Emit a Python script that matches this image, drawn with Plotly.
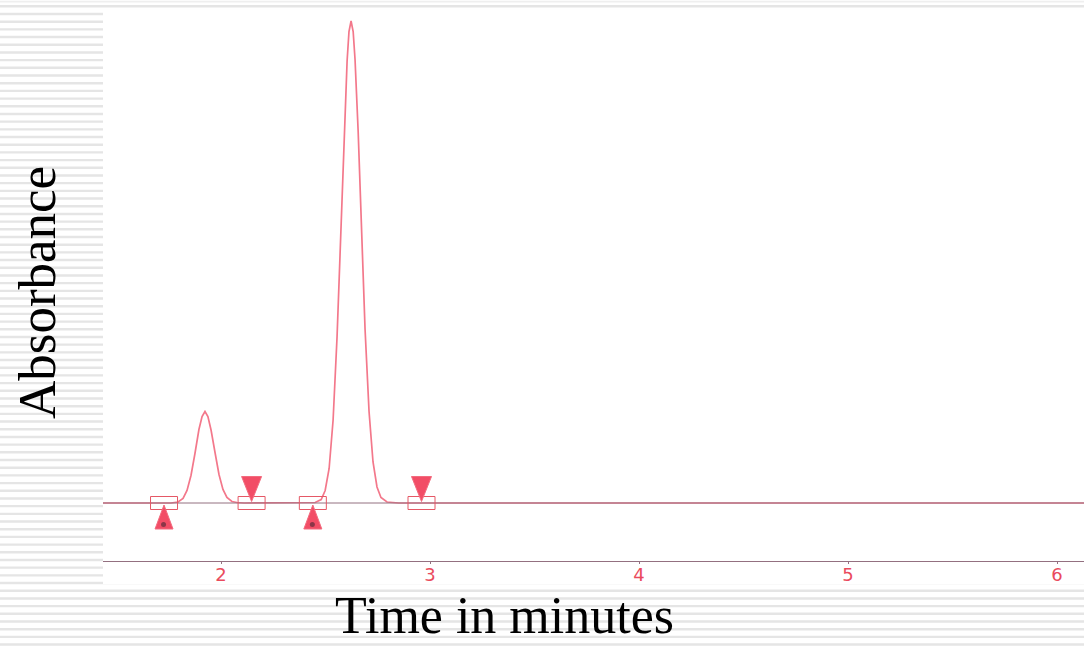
import plotly.graph_objects as go

# ---------------- data ----------------
time_min = [1.435, 1.700, 1.760, 1.794, 1.818, 1.837, 1.856, 1.875, 1.894, 1.909,
            1.923, 1.937, 1.952, 1.971, 1.990, 2.009, 2.028, 2.052, 2.076, 2.110,
            2.300, 2.420, 2.450, 2.479, 2.498, 2.517, 2.536, 2.555, 2.574, 2.589,
            2.603, 2.612, 2.622, 2.632, 2.641, 2.656, 2.670, 2.689, 2.708, 2.727,
            2.746, 2.765, 2.794, 2.850, 3.500, 4.500, 5.500, 6.129]
absorbance = [0.000, 0.000, 0.000, 0.002, 0.009, 0.025, 0.055, 0.099, 0.147, 0.173,
              0.183, 0.173, 0.146, 0.101, 0.057, 0.027, 0.011, 0.003, 0.001, 0.000,
              0.000, 0.000, 0.001, 0.007, 0.025, 0.069, 0.166, 0.333, 0.560, 0.738,
              0.884, 0.943, 0.964, 0.943, 0.887, 0.742, 0.569, 0.347, 0.183, 0.082,
              0.032, 0.011, 0.002, 0.000, 0.000, 0.000, 0.000, 0.000]

peak_marker_times = [1.727, 2.146, 2.439, 2.959]
peak_marker_kinds = ["start", "end", "start", "end"]

tick_values = [2, 3, 4, 5, 6]
tick_labels = ["2", "3", "4", "5", "6"]

x_title = "Time in minutes"
y_title = "Absorbance"

# ---------------- layout geometry ----------------
W, H = 1084, 646
ML, MR, MT, MB = 103, 0, 8, 85
PW, PH = W - ML - MR, H - MT - MB


def px_x(px):
    return (px - ML) / PW


def px_y(py):
    return (H - MB - py) / PH


CURVE = "#f3788b"
BASE = "#937080"
RED = "#ea4b5d"

fig = go.Figure()

fig.add_trace(go.Scatter(
    x=time_min, y=absorbance, mode="lines",
    line=dict(color=CURVE, width=1.7), hoverinfo="skip", showlegend=False))

# baseline drawn by the integrator
fig.add_trace(go.Scatter(
    x=[time_min[0], time_min[-1]], y=[0, 0], mode="lines",
    line=dict(color=BASE, width=1), hoverinfo="skip", showlegend=False))

shapes = []
# striped slide background
k = 0
while True:
    yc = 6.3 + 7.69 * k
    if yc > H + 4:
        break
    shapes.append(dict(type="rect", xref="paper", yref="paper", layer="below",
                       x0=px_x(0), x1=px_x(W), y0=px_y(yc + 1.2), y1=px_y(yc - 1.2),
                       fillcolor="#e5e5e5", line=dict(width=0)))
    k += 1
shapes.append(dict(type="rect", xref="paper", yref="paper", layer="below",
                   x0=px_x(0), x1=px_x(W), y0=px_y(2.4), y1=px_y(0.8),
                   fillcolor="#efefef", line=dict(width=0)))
# white chromatogram image region
shapes.append(dict(type="rect", xref="paper", yref="paper", layer="below",
                   x0=px_x(ML), x1=px_x(W), y0=px_y(584), y1=px_y(8),
                   fillcolor="white", line=dict(width=0)))

# peak start / end markers
for t, kind in zip(peak_marker_times, peak_marker_kinds):
    shapes.append(dict(type="rect", xref="x", yref="y",
                       xsizemode="pixel", ysizemode="pixel", xanchor=t, yanchor=0,
                       x0=-13.5, x1=13.5, y0=-6.5, y1=6.5,
                       line=dict(color="#e55866", width=1), fillcolor="rgba(0,0,0,0)"))
    if kind == "start":
        path = "M -9,-26 L 9,-26 L 0,-2 Z"
    else:
        path = "M -10,26.5 L 10,26.5 L 0,1.5 Z"
    shapes.append(dict(type="path", xref="x", yref="y",
                       xsizemode="pixel", ysizemode="pixel", xanchor=t, yanchor=0,
                       path=path, fillcolor="#f24d66",
                       line=dict(color="#f36b7e", width=1)))
    if kind == "start":
        shapes.append(dict(type="circle", xref="x", yref="y",
                           xsizemode="pixel", ysizemode="pixel", xanchor=t, yanchor=0,
                           x0=-3, x1=2, y0=-24, y1=-19,
                           fillcolor="#8a3648", line=dict(width=0)))

fig.update_layout(
    width=W, height=H,
    margin=dict(l=ML, r=MR, t=MT, b=MB, pad=0),
    paper_bgcolor="white", plot_bgcolor="white",
    shapes=shapes,
    xaxis=dict(range=[1.435, 6.129], tickvals=tick_values, ticktext=tick_labels,
               showline=True, linecolor=BASE, linewidth=1,
               ticks="outside", ticklen=2, tickcolor=BASE,
               ticklabelstandoff=-5,
               tickfont=dict(family="DejaVu Sans", size=18, color=RED),
               showgrid=False, zeroline=False, fixedrange=True),
    yaxis=dict(range=[-0.116, 0.99], visible=False, showgrid=False,
               zeroline=False, fixedrange=True),
    annotations=[
        dict(text=x_title, xref="paper", yref="paper", x=px_x(504), y=px_y(615),
             xanchor="center", yanchor="middle", showarrow=False,
             font=dict(family="Liberation Serif", size=52, color="black")),
        dict(text=y_title, xref="paper", yref="paper", x=px_x(37), y=px_y(293),
             xanchor="center", yanchor="middle", showarrow=False, textangle=-90,
             font=dict(family="Liberation Serif", size=53, color="black")),
    ],
)

fig.write_html("out.html")
